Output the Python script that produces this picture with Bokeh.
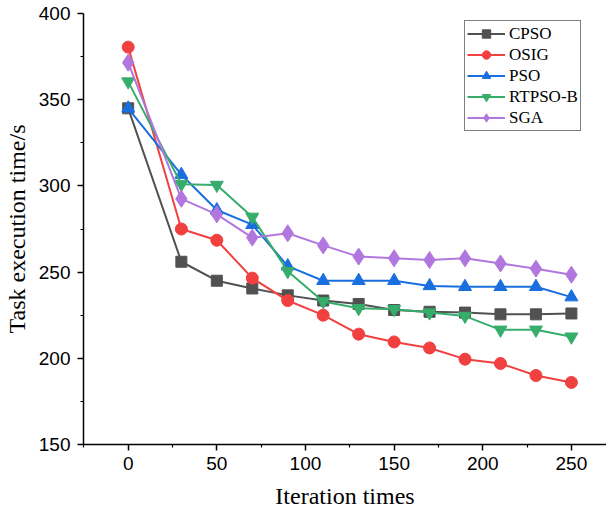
from bokeh.plotting import figure
from bokeh.models import Range1d, Legend, LegendItem, FixedTicker
from bokeh.embed import file_html
from bokeh.resources import INLINE

iterations = [0, 30, 50, 70, 90, 110, 130, 150, 170, 190, 210, 230, 250]
cpso = [345, 256, 245, 240.5, 236.5, 233.5, 231.5, 228, 227, 226.5, 225.5, 225.5, 226]
osig = [380.5, 275, 268.5, 246.5, 233.5, 225, 214, 209.5, 206, 199.5, 197, 190, 186]
pso = [345, 306.5, 286, 277.5, 253.5, 245, 245, 245, 242, 241.5, 241.5, 241.5, 235.5]
rtpso_b = [360.5, 301, 300.5, 282, 250.5, 233, 229, 228.5, 226.5, 224.5, 216.5, 216.5, 212.5]
sga = [371.5, 292.5, 283.5, 270, 272.5, 265.5, 259, 258, 257, 258, 255, 252, 248.5]

names = ["CPSO", "OSIG", "PSO", "RTPSO-B", "SGA"]
series = [cpso, osig, pso, rtpso_b, sga]
colors = ["#515151", "#F14040", "#1A6FDF", "#37AD6B", "#B177DE"]
markers = ["square", "circle", "triangle", "inverted_triangle", "diamond"]
msizes = [11, 12, 13, 13, 17]

p = figure(width=606, height=514, output_backend="svg", toolbar_location=None,
           x_range=Range1d(-25.2, 269.8), y_range=Range1d(150, 400),
           min_border_left=81, min_border_right=0, min_border_top=13, min_border_bottom=70)
p.outline_line_color = None
p.grid.visible = False

items = []
for name, ys, c, m, s in zip(names, series, colors, markers, msizes):
    r1 = p.line(iterations, ys, line_color=c, line_width=2)
    r2 = p.scatter(iterations, ys, marker=m, size=s, fill_color=c, line_color=c)
    items.append(LegendItem(label=name, renderers=[r1, r2]))

legend = Legend(items=items, location=(381, 313))
legend.label_text_font = "Liberation Serif"
legend.label_text_font_size = "17px"
legend.label_text_color = "black"
legend.border_line_color = "black"
legend.border_line_width = 1
legend.glyph_width = 38
legend.glyph_height = 21
legend.label_height = 21
legend.spacing = 0
legend.padding = 2
legend.label_standoff = 4
legend.margin = 0
p.add_layout(legend, "center")

p.xaxis.ticker = FixedTicker(ticks=[0, 50, 100, 150, 200, 250],
                             minor_ticks=[-25, 25, 75, 125, 175, 225, 275])
p.yaxis.ticker = FixedTicker(ticks=[150, 200, 250, 300, 350, 400],
                             minor_ticks=[175, 225, 275, 325, 375])
for ax in (p.xaxis, p.yaxis):
    ax.axis_line_width = 1.5
    ax.axis_line_color = "black"
    ax.major_tick_line_color = "black"
    ax.minor_tick_line_color = "black"
    ax.major_tick_line_width = 1.5
    ax.minor_tick_line_width = 1.2
    ax.major_tick_out = 6
    ax.major_tick_in = 0
    ax.minor_tick_out = 3
    ax.minor_tick_in = 0
    ax.major_label_text_font = "Liberation Sans"
    ax.major_label_text_font_size = "19px"
    ax.major_label_text_color = "black"
    ax.axis_label_text_font = "Liberation Serif"
    ax.axis_label_text_font_size = "24px"
    ax.axis_label_text_font_style = "normal"
    ax.axis_label_text_color = "black"

p.xaxis.axis_label = "Iteration times"
p.yaxis.axis_label = "Task execution time/s"
p.xaxis.major_label_standoff = 6
p.yaxis.major_label_standoff = 7
p.xaxis.axis_label_standoff = 10
p.yaxis.axis_label_standoff = 6

open("out.html", "w").write(file_html(p, INLINE))
